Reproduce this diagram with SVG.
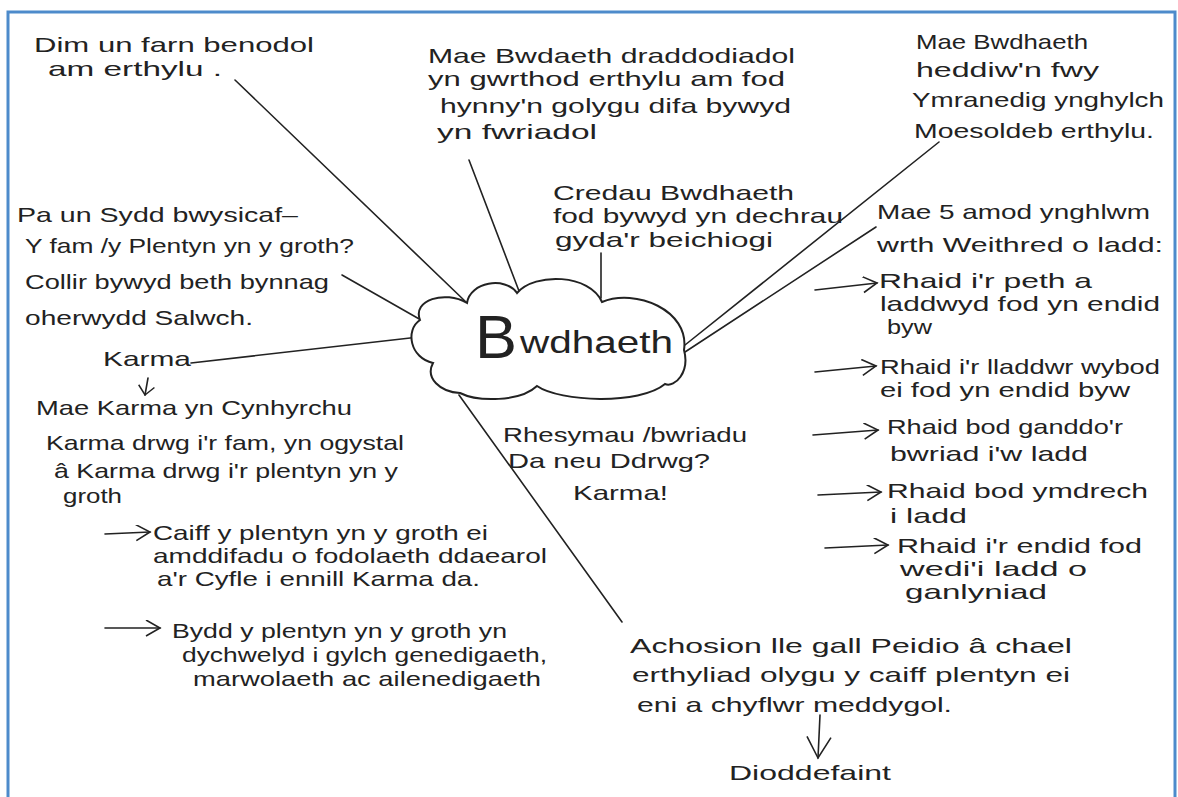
<svg xmlns="http://www.w3.org/2000/svg" width="1178" height="797" viewBox="0 0 1178 797">
<style>
.t{font-family:"Liberation Sans","DejaVu Sans",sans-serif;font-size:21px;fill:#222}
.ln{stroke:#222;stroke-width:1.6;fill:none;stroke-linecap:round}
.cloud{stroke:#222;stroke-width:2;fill:#fff}
</style>
<defs>
<marker id="arrR" markerUnits="userSpaceOnUse" markerWidth="20" markerHeight="20" refX="15" refY="8" orient="auto"><path d="M1,0 L15,8 L1,16" fill="none" stroke="#222" stroke-width="1.6"/></marker>
<marker id="arrD" markerUnits="userSpaceOnUse" markerWidth="26" markerHeight="28" refX="22" refY="13" orient="auto"><path d="M1,1 L22,13 L1,25" fill="none" stroke="#222" stroke-width="1.6"/></marker>
<marker id="arrS" markerUnits="userSpaceOnUse" markerWidth="14" markerHeight="20" refX="10" refY="9" orient="auto"><path d="M1,1 L10,9 L1,17" fill="none" stroke="#222" stroke-width="1.5"/></marker>
</defs>
<rect x="0" y="0" width="1178" height="797" fill="#fff"/>
<rect x="8" y="12" width="1167" height="800" fill="#fff" stroke="#4d8bcb" stroke-width="3"/>

<g id="connectors">
<line class="ln" x1="235" y1="80" x2="467" y2="303"/>
<line class="ln" x1="469" y1="160" x2="519" y2="291"/>
<line class="ln" x1="601" y1="253" x2="601" y2="298"/>
<line class="ln" x1="939" y1="142" x2="685" y2="345"/>
<line class="ln" x1="876" y1="227" x2="685" y2="352"/>
<line class="ln" x1="342" y1="275" x2="421" y2="320"/>
<line class="ln" x1="191" y1="363" x2="419" y2="337"/>
<line class="ln" x1="459" y1="395" x2="622" y2="622"/>
<line class="ln" x1="148" y1="378" x2="145" y2="395" marker-end="url(#arrS)"/>
<line class="ln" x1="105" y1="534" x2="150" y2="532" marker-end="url(#arrR)"/>
<line class="ln" x1="105" y1="628" x2="160" y2="628" marker-end="url(#arrR)"/>
<line class="ln" x1="815" y1="290" x2="877" y2="283" marker-end="url(#arrR)"/>
<line class="ln" x1="815" y1="372" x2="876" y2="366" marker-end="url(#arrR)"/>
<line class="ln" x1="813" y1="435" x2="878" y2="430" marker-end="url(#arrR)"/>
<line class="ln" x1="818" y1="495" x2="881" y2="492" marker-end="url(#arrR)"/>
<line class="ln" x1="825" y1="548" x2="888" y2="545" marker-end="url(#arrR)"/>
<line class="ln" x1="820" y1="715" x2="818" y2="758" marker-end="url(#arrD)"/>
</g>

<g id="n-center">
<path class="cloud" d="M420,320 C412,300 445,290 467,303 C470,282 505,276 517,293 C535,272 590,274 602,302 C635,288 690,310 684,350 C690,372 675,388 665,384 C640,405 560,402 537,386 C520,402 478,402 460,393 C440,392 425,378 433,363 C410,358 405,330 420,320 Z"/>
<text class="t" x="475" y="358"><tspan font-size="62" textLength="42" lengthAdjust="spacingAndGlyphs">B</tspan><tspan x="520" y="353" font-size="32" textLength="153" lengthAdjust="spacingAndGlyphs">wdhaeth</tspan></text>
</g>

<g id="n-dim">
<text class="t" x="34" y="52" textLength="280" lengthAdjust="spacingAndGlyphs">Dim un farn benodol</text>
<text class="t" x="48" y="76" textLength="174" lengthAdjust="spacingAndGlyphs">am erthylu .</text>
</g>

<g id="n-traddodiadol">
<text class="t" x="428" y="63" textLength="367" lengthAdjust="spacingAndGlyphs">Mae Bwdaeth draddodiadol</text>
<text class="t" x="428" y="86" textLength="357" lengthAdjust="spacingAndGlyphs">yn gwrthod erthylu am fod</text>
<text class="t" x="440" y="113" textLength="351" lengthAdjust="spacingAndGlyphs">hynny'n golygu difa bywyd</text>
<text class="t" x="437" y="139" textLength="160" lengthAdjust="spacingAndGlyphs">yn fwriadol</text>
</g>

<g id="n-heddiw">
<text class="t" x="916" y="49" textLength="172" lengthAdjust="spacingAndGlyphs">Mae Bwdhaeth</text>
<text class="t" x="916" y="77" textLength="183" lengthAdjust="spacingAndGlyphs">heddiw'n fwy</text>
<text class="t" x="912" y="107" textLength="252" lengthAdjust="spacingAndGlyphs">Ymranedig ynghylch</text>
<text class="t" x="914" y="138" textLength="240" lengthAdjust="spacingAndGlyphs">Moesoldeb erthylu.</text>
</g>

<g id="n-credau">
<text class="t" x="553" y="200" textLength="241" lengthAdjust="spacingAndGlyphs">Credau Bwdhaeth</text>
<text class="t" x="553" y="223" textLength="290" lengthAdjust="spacingAndGlyphs">fod bywyd yn dechrau</text>
<text class="t" x="555" y="247" textLength="218" lengthAdjust="spacingAndGlyphs">gyda'r beichiogi</text>
</g>

<g id="n-paun">
<text class="t" x="17" y="222" textLength="281" lengthAdjust="spacingAndGlyphs">Pa un Sydd bwysicaf–</text>
<text class="t" x="25" y="253" textLength="329" lengthAdjust="spacingAndGlyphs">Y fam /y Plentyn yn y groth?</text>
<text class="t" x="25" y="289" textLength="304" lengthAdjust="spacingAndGlyphs">Collir bywyd beth bynnag</text>
<text class="t" x="25" y="325" textLength="228" lengthAdjust="spacingAndGlyphs">oherwydd Salwch.</text>
</g>

<g id="n-karma">
<text class="t" x="103" y="366" textLength="88" lengthAdjust="spacingAndGlyphs">Karma</text>
</g>

<g id="n-karma-cynhyrchu">
<text class="t" x="36" y="415" textLength="316" lengthAdjust="spacingAndGlyphs">Mae Karma yn Cynhyrchu</text>
<text class="t" x="46" y="450" textLength="358" lengthAdjust="spacingAndGlyphs">Karma drwg i'r fam, yn ogystal</text>
<text class="t" x="54" y="478" textLength="344" lengthAdjust="spacingAndGlyphs">â Karma drwg i'r plentyn yn y</text>
<text class="t" x="63" y="503" textLength="59" lengthAdjust="spacingAndGlyphs">groth</text>
</g>

<g id="n-caiff">
<text class="t" x="153" y="540" textLength="335" lengthAdjust="spacingAndGlyphs">Caiff y plentyn yn y groth ei</text>
<text class="t" x="153" y="563" textLength="394" lengthAdjust="spacingAndGlyphs">amddifadu o fodolaeth ddaearol</text>
<text class="t" x="157" y="586" textLength="323" lengthAdjust="spacingAndGlyphs">a'r Cyfle i ennill Karma da.</text>
</g>

<g id="n-bydd">
<text class="t" x="172" y="638" textLength="335" lengthAdjust="spacingAndGlyphs">Bydd y plentyn yn y groth yn</text>
<text class="t" x="182" y="662" textLength="365" lengthAdjust="spacingAndGlyphs">dychwelyd i gylch genedigaeth,</text>
<text class="t" x="193" y="686" textLength="348" lengthAdjust="spacingAndGlyphs">marwolaeth ac ailenedigaeth</text>
</g>

<g id="n-rhesymau">
<text class="t" x="503" y="442" textLength="244" lengthAdjust="spacingAndGlyphs">Rhesymau /bwriadu</text>
<text class="t" x="508" y="468" textLength="202" lengthAdjust="spacingAndGlyphs">Da neu Ddrwg?</text>
<text class="t" x="573" y="500" textLength="95" lengthAdjust="spacingAndGlyphs">Karma!</text>
</g>

<g id="n-amodau">
<text class="t" x="877" y="219" textLength="273" lengthAdjust="spacingAndGlyphs">Mae 5 amod ynghlwm</text>
<text class="t" x="877" y="252" textLength="286" lengthAdjust="spacingAndGlyphs">wrth Weithred o ladd:</text>
</g>

<g id="n-amod1">
<text class="t" x="879" y="288" textLength="213" lengthAdjust="spacingAndGlyphs">Rhaid i'r peth a</text>
<text class="t" x="880" y="311" textLength="280" lengthAdjust="spacingAndGlyphs">laddwyd fod yn endid</text>
<text class="t" x="887" y="334" textLength="45" lengthAdjust="spacingAndGlyphs">byw</text>
</g>

<g id="n-amod2">
<text class="t" x="880" y="374" textLength="280" lengthAdjust="spacingAndGlyphs">Rhaid i'r lladdwr wybod</text>
<text class="t" x="880" y="397" textLength="250" lengthAdjust="spacingAndGlyphs">ei fod yn endid byw</text>
</g>

<g id="n-amod3">
<text class="t" x="887" y="434" textLength="236" lengthAdjust="spacingAndGlyphs">Rhaid bod ganddo'r</text>
<text class="t" x="890" y="461" textLength="198" lengthAdjust="spacingAndGlyphs">bwriad i'w ladd</text>
</g>

<g id="n-amod4">
<text class="t" x="887" y="498" textLength="261" lengthAdjust="spacingAndGlyphs">Rhaid bod ymdrech</text>
<text class="t" x="890" y="523" textLength="77" lengthAdjust="spacingAndGlyphs">i ladd</text>
</g>

<g id="n-amod5">
<text class="t" x="897" y="553" textLength="245" lengthAdjust="spacingAndGlyphs">Rhaid i'r endid fod</text>
<text class="t" x="900" y="576" textLength="187" lengthAdjust="spacingAndGlyphs">wedi'i ladd o</text>
<text class="t" x="905" y="599" textLength="142" lengthAdjust="spacingAndGlyphs">ganlyniad</text>
</g>

<g id="n-achosion">
<text class="t" x="630" y="653" textLength="442" lengthAdjust="spacingAndGlyphs">Achosion lle gall Peidio â chael</text>
<text class="t" x="632" y="682" textLength="438" lengthAdjust="spacingAndGlyphs">erthyliad olygu y caiff plentyn ei</text>
<text class="t" x="637" y="712" textLength="315" lengthAdjust="spacingAndGlyphs">eni a chyflwr meddygol.</text>
</g>

<g id="n-dioddefaint">
<text class="t" x="729" y="780" textLength="162" lengthAdjust="spacingAndGlyphs">Dioddefaint</text>
</g>
</svg>
